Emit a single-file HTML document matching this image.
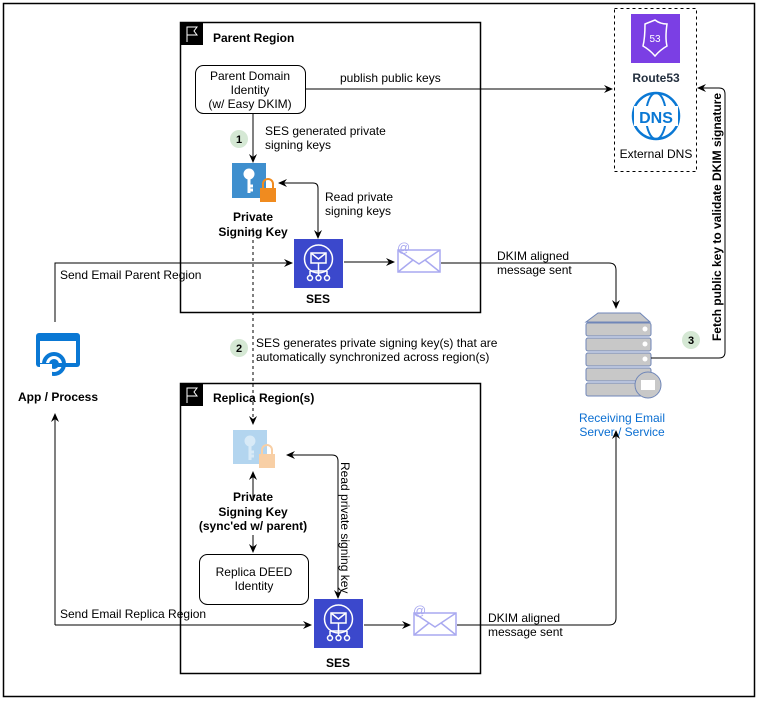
<!DOCTYPE html>
<html><head><meta charset="utf-8"><style>
html,body{margin:0;padding:0;background:#fff}
svg{display:block}
text{font-family:"Liberation Sans",Arial,sans-serif;font-size:12px;fill:#000}
.b{font-weight:bold}
</style></head><body>
<svg width="758" height="701" viewBox="0 0 758 701" xmlns="http://www.w3.org/2000/svg">
<defs>
<marker id="a" markerWidth="10" markerHeight="10" refX="8" refY="5" orient="auto" markerUnits="userSpaceOnUse"><path d="M0,1 L9,5 L0,9 L3,5 Z" fill="#000"/></marker>
<marker id="as" markerWidth="10" markerHeight="10" refX="2" refY="5" orient="auto" markerUnits="userSpaceOnUse"><path d="M10,1 L1,5 L10,9 L7,5 Z" fill="#000"/></marker>
<g id="ses"><rect width="49" height="49" fill="#3b48cc"/><circle cx="24.5" cy="20" r="14" fill="none" stroke="#fff" stroke-width="1.5"/><rect x="17" y="14" width="15" height="10" fill="none" stroke="#fff" stroke-width="1.5"/><path d="M17,14 L24.5,20 L32,14" fill="none" stroke="#fff" stroke-width="1.5"/><path d="M24.5,24 V32 M16,32 H33 M16,32 V36 M24.5,32 V36 M33,32 V36" stroke="#fff" stroke-width="1.5"/><circle cx="16" cy="39" r="2.5" fill="none" stroke="#fff" stroke-width="1.5"/><circle cx="24.5" cy="39" r="2.5" fill="none" stroke="#fff" stroke-width="1.5"/><circle cx="33" cy="39" r="2.5" fill="none" stroke="#fff" stroke-width="1.5"/></g>
<g id="mail"><rect x="1" y="8" width="42" height="22" fill="none" stroke="#a9a9f0" stroke-width="1.5"/><path d="M1,8 L22,22 L43,8 M1,30 L16,18 M43,30 L28,18" fill="none" stroke="#a9a9f0" stroke-width="1.5"/><text x="0" y="10" style="font-size:13px;fill:#a9a9f0">@</text></g>
</defs>
<rect x="3.5" y="3.5" width="751" height="693" fill="none" stroke="#000" stroke-width="1.5"/>

<rect x="180.5" y="22.5" width="300" height="290" fill="none" stroke="#000" stroke-width="1.5"/>
<rect x="180" y="22" width="23" height="23" fill="#000"/>
<path d="M187,42 V27 H197 L194,31 L197,35 H187" fill="none" stroke="#fff" stroke-width="1"/>
<text x="213" y="42" class="b">Parent Region</text>
<rect x="195.5" y="65.5" width="110" height="48" rx="8" fill="#fff" stroke="#000"/>
<text x="250" y="80" text-anchor="middle">Parent Domain</text>
<text x="250" y="94" text-anchor="middle">Identity</text>
<text x="250" y="108" text-anchor="middle">(w/ Easy DKIM)</text>
<path d="M305,89 H612" stroke="#000" fill="none" marker-end="url(#a)"/>
<text x="340" y="82">publish public keys</text>
<path d="M253,113 V162" stroke="#000" fill="none" marker-end="url(#a)"/>
<circle cx="239" cy="139" r="9" fill="#d5e8d4"/><text x="239" y="143" text-anchor="middle" class="b" style="font-size:11px">1</text>
<text x="265" y="135">SES generated private</text>
<text x="265" y="149">signing keys</text>
<rect x="232" y="163" width="34" height="35" fill="#3f8fce"/>
<circle cx="249" cy="174" r="5.5" fill="#fff"/><path d="M249,176 V193 M249,186 H253 M249,190 H253" stroke="#fff" stroke-width="3"/>
<rect x="260" y="188" width="16" height="14" fill="#f08b1f"/><path d="M263,188 V184 a5,5 0 0 1 10,0 V188" fill="none" stroke="#f08b1f" stroke-width="2"/>
<text x="253" y="221" text-anchor="middle" class="b">Private</text>
<text x="253" y="236" text-anchor="middle" class="b">Signing Key</text>
<path d="M279,183 H313 Q318,183 318,188 V238" fill="none" stroke="#000" marker-start="url(#as)" marker-end="url(#a)"/>
<text x="325" y="201">Read private</text>
<text x="325" y="215">signing keys</text>
<use href="#ses" x="294" y="239"/>
<text x="318" y="303" text-anchor="middle" class="b">SES</text>
<path d="M344,262 H394" stroke="#000" fill="none" marker-end="url(#a)"/>
<use href="#mail" x="397" y="242"/>
<path d="M441,263 H609 Q616,263 616,270 V308" fill="none" stroke="#000" marker-end="url(#a)"/>
<text x="497" y="260">DKIM aligned</text>
<text x="497" y="274">message sent</text>

<path d="M55,322 V263 H292" fill="none" stroke="#000" marker-end="url(#a)"/>
<text x="60" y="279">Send Email Parent Region</text>
<rect x="36" y="333" width="44" height="34" rx="3" fill="#0a78d4"/>
<rect x="40" y="341" width="36" height="22" fill="#fff"/>
<circle cx="54" cy="364" r="10" fill="none" stroke="#0a78d4" stroke-width="4"/><circle cx="54" cy="364" r="5" fill="#0a78d4"/>
<rect x="40" y="364" width="12" height="12" fill="#fff"/>
<text x="58" y="401" text-anchor="middle" class="b">App / Process</text>
<path d="M55,625 V414" fill="none" stroke="#000" marker-end="url(#a)"/>
<path d="M55,625 H311" fill="none" stroke="#000" marker-end="url(#a)"/>
<text x="60" y="618">Send Email Replica Region</text>

<path d="M253,228 V424" fill="none" stroke="#000" stroke-dasharray="3,3" marker-end="url(#a)"/>
<circle cx="239" cy="348" r="9" fill="#d5e8d4"/><text x="239" y="352" text-anchor="middle" class="b" style="font-size:11px">2</text>
<text x="256" y="347">SES generates private signing key(s) that are</text>
<text x="256" y="361">automatically synchronized across region(s)</text>

<rect x="180.5" y="383.5" width="300" height="290" fill="none" stroke="#000" stroke-width="1.5"/>
<rect x="180" y="383" width="23" height="23" fill="#000"/>
<path d="M187,403 V388 H197 L194,392 L197,396 H187" fill="none" stroke="#fff" stroke-width="1"/>
<text x="213" y="402" class="b">Replica Region(s)</text>
<rect x="233" y="430" width="34" height="34" fill="#b3d5ef"/>
<circle cx="250" cy="441" r="5.5" fill="#d8eaf7"/><path d="M250,443 V460 M250,452 H254 M250,456 H254" stroke="#d8eaf7" stroke-width="3"/>
<rect x="259" y="454" width="16" height="14" fill="#f8cfa5"/><path d="M262,454 V450 a5,5 0 0 1 10,0 V454" fill="none" stroke="#f8cfa5" stroke-width="2"/>
<path d="M253,500 V472" fill="none" stroke="#000" marker-end="url(#a)"/>
<text x="253" y="501" text-anchor="middle" class="b">Private</text>
<text x="253" y="516" text-anchor="middle" class="b">Signing Key</text>
<text x="253" y="530" text-anchor="middle" class="b">(sync'ed w/ parent)</text>
<path d="M253,535 V552" fill="none" stroke="#000" marker-end="url(#a)"/>
<rect x="199.5" y="554.5" width="109" height="50" rx="8" fill="#fff" stroke="#000"/>
<text x="254" y="576" text-anchor="middle">Replica DEED</text>
<text x="254" y="590" text-anchor="middle">Identity</text>
<path d="M287,455 H332 Q338,455 338,461 V598" fill="none" stroke="#000" marker-start="url(#as)" marker-end="url(#a)"/>
<text transform="translate(341,462) rotate(90)">Read private signing key</text>
<use href="#ses" x="314" y="599"/>
<text x="338" y="667" text-anchor="middle" class="b">SES</text>
<path d="M364,625 H410" stroke="#000" fill="none" marker-end="url(#a)"/>
<use href="#mail" x="413" y="605"/>
<path d="M457,625 H609 Q616,625 616,618 V431" fill="none" stroke="#000" marker-end="url(#a)"/>
<text x="488" y="622">DKIM aligned</text>
<text x="488" y="636">message sent</text>

<rect x="614.5" y="8.5" width="82" height="163" fill="none" stroke="#000" stroke-dasharray="3,3"/>
<rect x="631" y="14" width="49" height="49" fill="#7b3fe4"/>
<path d="M645,24 Q655,20 655,20 Q660,24 667,24 Q665,38 667,46 Q660,50 655,56 Q650,50 643,46 Q645,38 645,24 Z" fill="none" stroke="#fff" stroke-width="1.5"/>
<text x="655" y="42" text-anchor="middle" style="font-size:10px;fill:#fff">53</text>
<text x="656" y="82" text-anchor="middle" class="b" style="fill:#232f3e">Route53</text>
<circle cx="656" cy="116" r="23" fill="none" stroke="#0a78d4" stroke-width="2.5"/>
<ellipse cx="656" cy="116" rx="10" ry="23" fill="none" stroke="#0a78d4" stroke-width="2"/>
<rect x="634" y="106" width="44" height="20" fill="#fff"/>
<text x="656" y="123" text-anchor="middle" class="b" style="font-size:16px;fill:#0a78d4">DNS</text>
<text x="656" y="158" text-anchor="middle">External DNS</text>

<path d="M598,313 H640 L650,322 H586 Z" fill="#c8c8c8" stroke="#6f86b8"/>
<g fill="#c8c8c8" stroke="#6f86b8">
<rect x="586" y="323" width="65" height="13" rx="2"/><rect x="586" y="338" width="65" height="13" rx="2"/><rect x="586" y="353" width="65" height="13" rx="2"/><rect x="586" y="368" width="65" height="13" rx="2"/><rect x="586" y="383" width="65" height="13" rx="2"/>
</g>
<g fill="#fff"><circle cx="645" cy="329" r="2.5"/><circle cx="645" cy="344" r="2.5"/><circle cx="645" cy="359" r="2.5"/></g>
<circle cx="648" cy="385" r="13" fill="#c8c8c8" stroke="#6f86b8"/>
<rect x="641" y="380" width="14" height="10" fill="#fff"/>
<text x="622" y="422" text-anchor="middle" style="fill:#0a6ed1">Receiving Email</text>
<text x="622" y="436" text-anchor="middle" style="fill:#0a6ed1">Server / Service</text>
<path d="M651,358 H719 Q725,358 725,352 V94 Q725,88 719,88 H698" fill="none" stroke="#000" marker-end="url(#a)"/>
<circle cx="691" cy="340" r="9" fill="#d5e8d4"/><text x="691" y="344" text-anchor="middle" class="b" style="font-size:11px">3</text>
<text transform="translate(721,217) rotate(-90)" text-anchor="middle" class="b">Fetch public key to validate DKIM signature</text>
</svg>
</body></html>
